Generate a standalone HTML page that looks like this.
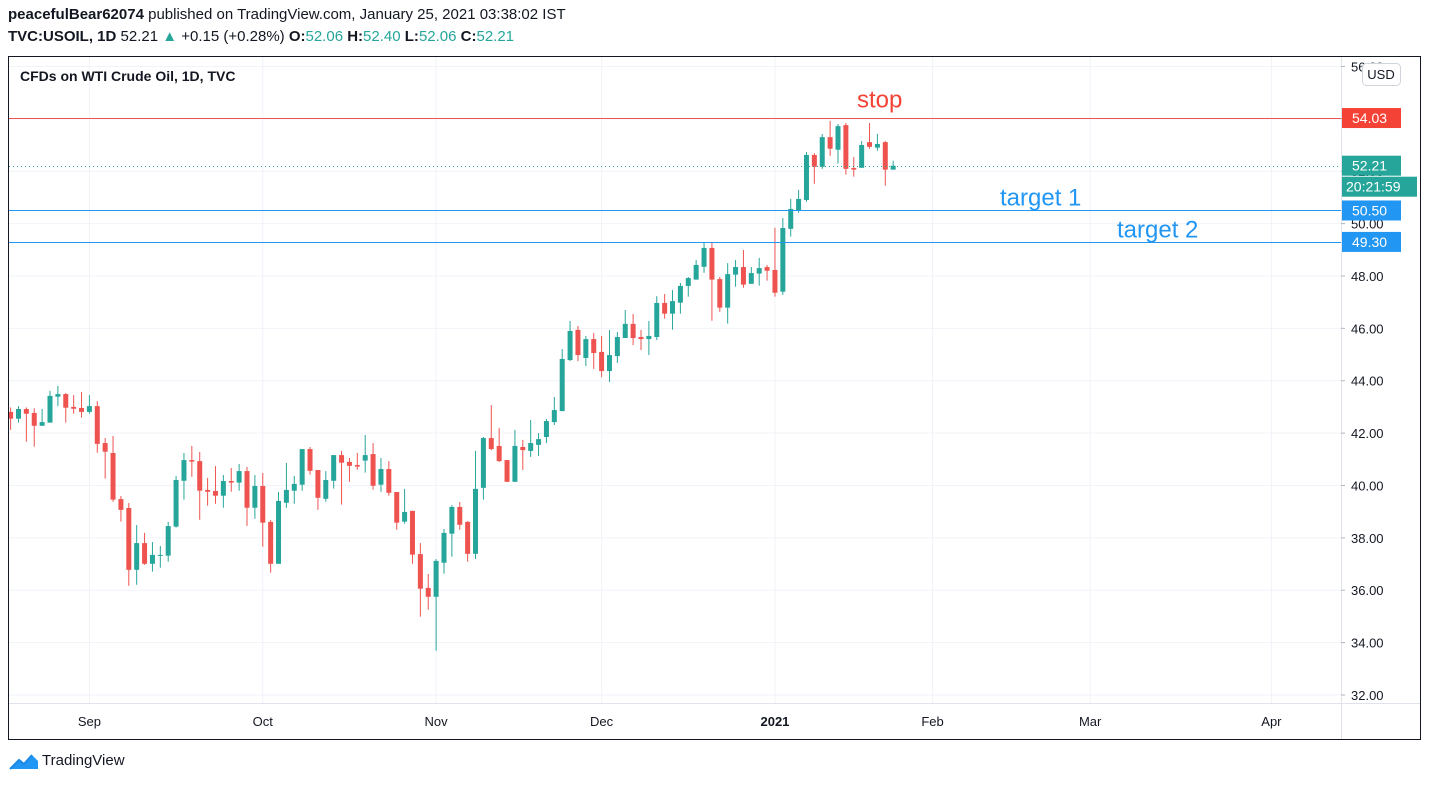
<!DOCTYPE html>
<html><head><meta charset="utf-8">
<style>
html,body{margin:0;padding:0;background:#fff;width:1430px;height:786px;overflow:hidden;font-family:"Liberation Sans",Arial,sans-serif;}
.hdr{position:absolute;left:8px;font-size:15px;color:#131722;white-space:nowrap;}
</style></head>
<body>
<div class="hdr" style="top:6px"><b>peacefulBear62074</b> published on TradingView.com, January 25, 2021 03:38:02 IST</div>
<div class="hdr" style="top:28px"><b>TVC:USOIL, 1D</b> 52.21 <span style="color:#26a69a">▲</span> +0.15 (+0.28%) <b>O:</b><span style="color:#26a69a">52.06</span> <b>H:</b><span style="color:#26a69a">52.40</span> <b>L:</b><span style="color:#26a69a">52.06</span> <b>C:</b><span style="color:#26a69a">52.21</span></div>
<svg id="chart" width="1430" height="786" style="position:absolute;left:0;top:0" xmlns="http://www.w3.org/2000/svg"></svg>
<div style="position:absolute;left:8px;top:751px;">
<svg width="32" height="22" viewBox="0 0 32 22"><path d="M2 18 L11 9 L16 13 L24 4 L30 10 L30 18 Z" fill="#2196f3"/><path d="M2 18 L11 9 L16 13 L24 4" stroke="#1e88e5" stroke-width="2" fill="none"/></svg>
<span style="position:absolute;left:34px;top:1px;font-size:15px;color:#131722;">TradingView</span></div>
<script>
const opens=[42.81,42.55,42.92,42.77,42.28,42.40,43.39,43.49,43.00,42.96,42.81,43.03,41.62,41.24,39.48,39.14,36.78,37.80,37.01,37.32,37.32,38.43,40.18,40.97,40.93,39.83,39.79,39.61,40.17,40.11,40.55,39.15,39.98,38.61,37.01,39.34,39.80,40.03,41.39,40.59,39.49,40.18,41.16,40.90,40.78,40.95,41.20,40.03,40.63,39.75,38.62,39.03,37.38,36.09,35.75,37.05,38.16,39.18,38.61,37.39,39.91,41.81,41.51,40.97,40.14,41.47,41.32,41.55,41.85,42.42,42.84,44.79,45.94,44.87,45.59,45.10,44.37,44.94,45.63,46.17,45.67,45.59,45.67,46.97,46.56,46.98,47.62,47.86,48.35,49.07,47.88,46.79,48.05,48.34,47.70,48.09,48.34,48.23,47.40,49.80,50.49,50.90,52.62,52.17,53.30,52.82,53.76,52.12,52.13,53.11,52.90,53.11,52.06];
const highs=[42.98,43.03,42.98,42.95,42.92,43.61,43.80,43.53,43.45,43.57,43.45,43.22,41.81,41.89,39.60,39.33,38.49,38.19,37.84,37.69,38.61,40.36,41.24,41.51,41.28,40.29,40.74,40.40,40.67,40.82,40.71,40.40,40.48,38.68,39.75,40.86,40.36,41.39,41.47,40.59,40.55,41.16,41.32,41.05,41.24,41.93,41.62,41.05,40.93,39.75,39.87,39.03,37.80,36.62,37.19,38.34,39.25,39.37,38.64,41.32,41.85,43.07,42.19,40.97,42.12,41.74,42.50,42.00,42.54,43.38,45.21,46.28,46.09,45.71,45.82,45.71,45.94,45.86,46.70,46.55,45.94,46.28,47.23,47.31,47.46,47.73,47.96,48.61,49.30,49.30,47.96,48.49,48.61,48.99,48.34,48.69,48.42,49.84,50.21,50.94,51.28,52.73,52.69,53.42,53.92,53.80,53.84,52.54,53.15,53.84,53.42,53.15,52.40];
const lows=[42.12,42.40,41.67,41.48,42.28,42.40,43.03,42.40,42.74,42.59,42.74,41.25,40.26,39.38,38.62,36.17,36.21,36.97,36.71,36.86,37.09,38.39,39.46,40.33,38.69,39.23,39.30,39.15,39.76,39.80,38.46,38.73,37.66,36.67,37.01,39.15,39.30,39.80,40.41,39.07,39.38,39.88,39.27,40.14,40.60,40.49,39.84,39.76,39.61,38.31,38.54,37.01,34.99,35.26,33.69,36.63,37.28,38.31,37.09,37.20,39.46,41.35,40.90,40.14,40.14,40.59,41.09,41.13,41.62,42.31,42.84,44.75,44.75,44.56,44.45,44.14,43.95,44.68,45.63,45.36,45.17,44.98,45.55,46.37,45.95,46.56,47.21,47.86,48.12,46.29,46.63,46.18,47.59,47.55,47.70,47.63,47.82,47.21,47.28,49.50,50.41,50.83,51.52,52.09,52.59,52.29,51.87,51.79,52.13,52.86,52.78,51.45,52.06];
const closes=[42.55,42.92,42.74,42.28,42.42,43.42,43.49,42.97,42.93,42.81,43.03,41.59,41.29,39.46,39.07,36.78,37.80,37.01,37.35,37.35,38.45,40.21,40.97,40.91,39.80,39.76,39.61,40.17,40.11,40.55,39.15,39.98,38.58,37.01,39.41,39.83,40.06,41.39,40.56,39.53,40.21,41.16,40.87,40.75,40.72,41.16,39.99,40.63,39.72,38.58,38.99,37.36,36.06,35.75,37.12,38.19,39.18,38.50,37.39,39.87,41.81,41.39,40.93,40.14,41.51,41.35,41.62,41.77,42.46,42.88,44.83,45.90,44.98,45.59,45.06,44.37,44.98,45.67,46.17,45.63,45.59,45.71,46.97,46.56,47.04,47.62,47.92,48.42,49.07,47.86,46.79,48.07,48.34,47.67,48.11,48.30,48.20,47.36,49.83,50.56,50.94,52.62,52.17,53.30,52.86,53.72,52.09,52.06,53.00,52.93,53.04,52.06,52.21];
const priceTicks=[32,34,36,38,40,42,44,46,48,50,52,54,56];
const monthLabels=["Sep","Oct","Nov","Dec","2021","Feb","Mar","Apr"];
const monthBars=[10,32,54,75,97,117,137,160];
const levelPrices=[54.03,50.50,49.30];
const levelNames=["stop","target 1","target 2"];
const lastPrice=52.21;

const NS="http://www.w3.org/2000/svg";
const svg=document.getElementById('chart');
const L=9,R=1341,T=57,B=703;
function py(p){return 695-(p-32)*26.19;}
function bx(i){return 10.6+i*7.88;}
function mk(tag,attrs,parent){const e=document.createElementNS(NS,tag);for(const k in attrs)e.setAttribute(k,attrs[k]);(parent||svg).appendChild(e);return e;}
const G="#26a69a",RD="#ef5350",BL="#2196f3";

priceTicks.forEach(p=>{const l=mk('line',{x1:L,x2:R,y1:py(p),y2:py(p),stroke:'#f0f3fa','stroke-width':1});

});
monthBars.forEach(b=>{const l=mk('line',{x1:bx(b),x2:bx(b),y1:T,y2:B,stroke:'#f0f3fa','stroke-width':1});

});

const tt=mk('text',{x:20,y:81,'font-size':14,'font-weight':'bold',fill:'#131722','font-family':'Liberation Sans, sans-serif'});
tt.textContent='CFDs on WTI Crude Oil, 1D, TVC';



for(let i=0;i<opens.length;i++){
 const up=closes[i]>=opens[i];const c=up?G:RD;const x=bx(i);
 const g=mk('g',{});
 
 
 mk('line',{x1:x,x2:x,y1:py(highs[i]),y2:py(lows[i]),stroke:c,'stroke-width':1},g);
 const top=py(Math.max(opens[i],closes[i])),bot=py(Math.min(opens[i],closes[i]));
 mk('rect',{x:x-2.5,y:top,width:5,height:Math.max(1,bot-top),fill:c},g);
}

const lvColors=[RD,BL,BL];
const lvTextX=[857,1000,1117];
const lvTextDy=[-11,-5,-5];
levelPrices.forEach((p,k)=>{const y=Math.round(py(p))+0.5;
 const l=mk('line',{x1:L,x2:R,y1:y,y2:y,stroke:lvColors[k],'stroke-width':1});
 
 
 const t=mk('text',{x:lvTextX[k],y:y+lvTextDy[k],'font-size':24,fill:k==0?'#f44336':BL,'font-family':'Liberation Sans, sans-serif'});
 t.textContent=levelNames[k];
 
 
});
const ly=Math.round(py(lastPrice))+0.5;
const dl=mk('line',{x1:L,x2:R,y1:ly,y2:ly,stroke:G,'stroke-width':1,'stroke-dasharray':'1,3'});



mk('line',{x1:R+0.5,x2:R+0.5,y1:T,y2:740,stroke:'#e0e3eb'});
mk('line',{x1:8,x2:1421,y1:B+0.5,y2:B+0.5,stroke:'#e0e3eb'});
const fr=mk('rect',{x:8.5,y:56.5,width:1412,height:683,fill:'none',stroke:'#131722','stroke-width':1});



priceTicks.forEach(p=>{const y=py(p);
 mk('line',{x1:R,x2:R+4,y1:y,y2:y,stroke:'#b2b5be'});
 const t=mk('text',{x:1351,y:y+5,'font-size':13,fill:'#131722','font-family':'Liberation Sans, sans-serif'});
 t.textContent=p.toFixed(2);
 
 
});
monthLabels.forEach((m,k)=>{const t=mk('text',{x:bx(monthBars[k]),y:726,'font-size':13,fill:'#131722','text-anchor':'middle','font-weight':m=='2021'?'bold':'normal','font-family':'Liberation Sans, sans-serif'});
 t.textContent=m;
 
 });

function badge(p,col,label,w){const y=py(p);
 const g=mk('g',{});
 
 
 mk('rect',{x:R+1,y:y-10,width:w,height:20,fill:col},g);
 const t=mk('text',{x:R+11,y:y+5,'font-size':14,fill:'#fff','font-family':'Liberation Sans, sans-serif'},g);
 t.textContent=label;}
badge(levelPrices[0],'#f44336',levelPrices[0].toFixed(2),59);
badge(lastPrice,G,lastPrice.toFixed(2),59);
const cg=mk('g',{});


mk('rect',{x:R+1,y:py(lastPrice)+11,width:75,height:20,fill:G},cg);
const ct=mk('text',{x:R+5,y:py(lastPrice)+26,'font-size':14,fill:'#fff','font-family':'Liberation Sans, sans-serif'},cg);
ct.textContent='20:21:59';
badge(levelPrices[1],BL,levelPrices[1].toFixed(2),59);
badge(levelPrices[2],BL,levelPrices[2].toFixed(2),59);
const ug=mk('g',{});


mk('rect',{x:1362.5,y:63.5,width:38,height:22,rx:4,fill:'#fff',stroke:'#d1d4dc'},ug);
const ut=mk('text',{x:1381,y:79,'font-size':13,fill:'#131722','text-anchor':'middle','font-family':'Liberation Sans, sans-serif'},ug);
ut.textContent='USD';
</script>
</body></html>
